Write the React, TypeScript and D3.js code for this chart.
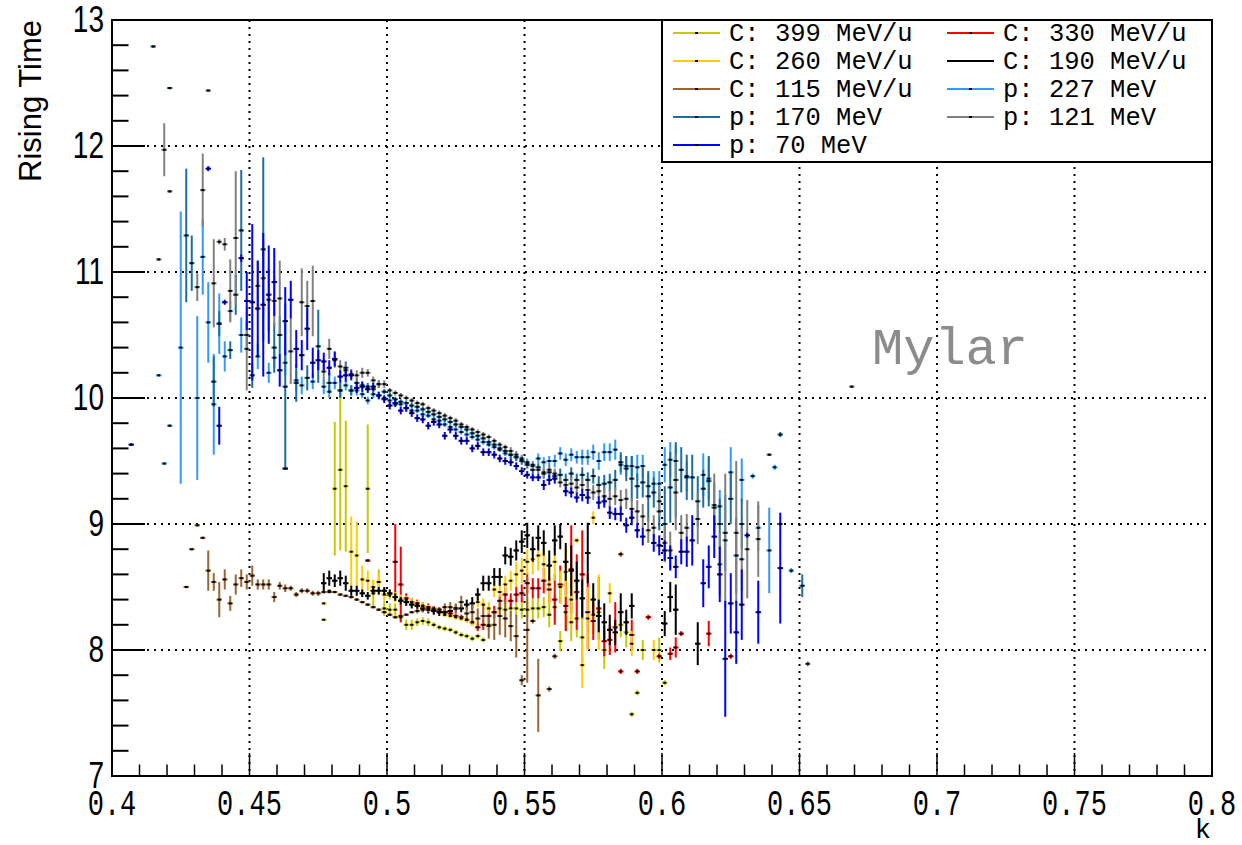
import React from 'react';
import * as d3 from 'd3';

type Pt = [number, number, number]; // [k, rising time, error]

const xTickValues = [0.4, 0.45, 0.5, 0.55, 0.6, 0.65, 0.7, 0.75, 0.8];
const xTickLabels = ['0.4', '0.45', '0.5', '0.55', '0.6', '0.65', '0.7', '0.75', '0.8'];
const yTickValues = [7, 8, 9, 10, 11, 12, 13];
const yTickLabels = ['7', '8', '9', '10', '11', '12', '13'];

const c399: Pt[] = [
  [0.477, 8.24, 0.01], [0.479, 8.47, 0.01], [0.481, 9.28, 0.53], [0.483, 9.43, 0.64], [0.485, 9.3, 0.52],
  [0.493, 9.28, 0.51], [0.495, 8.45, 0.1], [0.497, 8.54, 0.1], [0.499, 8.33, 0.06], [0.501, 8.32, 0.05],
  [0.503, 8.32, 0.05], [0.505, 8.26, 0.04], [0.507, 8.2, 0.04], [0.509, 8.2, 0.04], [0.511, 8.22, 0.03],
  [0.513, 8.23, 0.03], [0.515, 8.22, 0.03], [0.517, 8.2, 0.02], [0.519, 8.18, 0.02], [0.521, 8.17, 0.02],
  [0.523, 8.16, 0.02], [0.525, 8.14, 0.02], [0.527, 8.12, 0.02], [0.529, 8.11, 0.02], [0.531, 8.09, 0.02],
  [0.533, 8.11, 0.02], [0.535, 8.08, 0.02], [0.537, 8.2, 0.05], [0.539, 8.3, 0.05], [0.541, 8.33, 0.06],
  [0.543, 8.32, 0.06], [0.545, 8.33, 0.06], [0.547, 8.33, 0.07], [0.549, 8.32, 0.07], [0.551, 8.32, 0.07],
  [0.553, 8.33, 0.08], [0.555, 8.33, 0.08], [0.557, 8.34, 0.08], [0.559, 8.28, 0.1], [0.561, 8.34, 0.1],
  [0.563, 8.07, 0.08], [0.565, 8.3, 0.15], [0.567, 8.22, 0.15], [0.569, 8.25, 0.15], [0.571, 8.1, 0.2],
  [0.575, 8.28, 0.15], [0.579, 8.0, 0.15], [0.585, 8.2, 0.1], [0.587, 8.14, 0.12], [0.589, 7.49, 0.02],
  [0.591, 7.66, 0.02], [0.593, 8.0, 0.08], [0.599, 8.0, 0.1], [0.601, 7.74, 0.02],
];

const c330: Pt[] = [
  [0.493, 8.71, 0.01], [0.503, 8.7, 0.3], [0.505, 8.52, 0.3], [0.507, 8.41, 0.04], [0.509, 8.38, 0.03],
  [0.511, 8.37, 0.03], [0.513, 8.35, 0.03], [0.515, 8.34, 0.03], [0.517, 8.32, 0.03], [0.519, 8.32, 0.02],
  [0.521, 8.3, 0.02], [0.523, 8.29, 0.02], [0.525, 8.27, 0.02], [0.527, 8.26, 0.02], [0.529, 8.24, 0.02],
  [0.531, 8.22, 0.02], [0.533, 8.18, 0.03], [0.535, 8.2, 0.04], [0.537, 8.27, 0.05], [0.539, 8.3, 0.05],
  [0.541, 8.39, 0.05], [0.543, 8.44, 0.06], [0.545, 8.39, 0.06], [0.547, 8.44, 0.06], [0.549, 8.45, 0.07],
  [0.551, 8.53, 0.08], [0.553, 8.49, 0.08], [0.555, 8.49, 0.08], [0.557, 8.55, 0.1], [0.559, 8.48, 0.1],
  [0.561, 8.4, 0.2], [0.563, 8.52, 0.15], [0.565, 8.35, 0.2], [0.567, 8.64, 0.35], [0.569, 8.46, 0.3],
  [0.571, 8.6, 0.35], [0.573, 8.3, 0.3], [0.575, 8.23, 0.15], [0.577, 8.33, 0.25], [0.579, 8.07, 0.12],
  [0.581, 8.08, 0.12], [0.583, 8.18, 0.2], [0.585, 7.83, 0.02], [0.589, 8.12, 0.12], [0.591, 7.83, 0.02],
  [0.595, 8.26, 0.02], [0.599, 7.95, 0.02], [0.603, 7.97, 0.05], [0.605, 8.02, 0.08], [0.607, 8.13, 0.02],
  [0.617, 8.13, 0.1], [0.625, 7.95, 0.02],
];

const c260: Pt[] = [
  [0.477, 8.37, 0.01], [0.487, 8.78, 0.28], [0.489, 8.75, 0.27], [0.491, 8.56, 0.11], [0.493, 8.55, 0.08],
  [0.495, 8.5, 0.06], [0.497, 8.54, 0.06], [0.499, 8.44, 0.05], [0.501, 8.44, 0.04], [0.503, 8.42, 0.04],
  [0.505, 8.4, 0.04], [0.507, 8.4, 0.03], [0.509, 8.38, 0.03], [0.511, 8.36, 0.03], [0.513, 8.35, 0.03],
  [0.515, 8.33, 0.03], [0.517, 8.31, 0.02], [0.519, 8.3, 0.02], [0.521, 8.28, 0.02], [0.523, 8.27, 0.02],
  [0.525, 8.26, 0.02], [0.527, 8.25, 0.02], [0.529, 8.24, 0.02], [0.531, 8.22, 0.03], [0.533, 8.38, 0.04],
  [0.535, 8.36, 0.05], [0.537, 8.33, 0.05], [0.539, 8.48, 0.06], [0.541, 8.46, 0.06], [0.543, 8.52, 0.07],
  [0.545, 8.55, 0.08], [0.547, 8.6, 0.1], [0.549, 8.63, 0.1], [0.551, 8.7, 0.1], [0.553, 8.72, 0.12],
  [0.555, 8.75, 0.12], [0.557, 8.68, 0.12], [0.559, 8.52, 0.15], [0.561, 8.7, 0.15], [0.563, 8.5, 0.13],
  [0.565, 8.62, 0.2], [0.567, 8.4, 0.2], [0.569, 8.87, 0.02], [0.571, 7.88, 0.18], [0.573, 8.25, 0.25],
  [0.575, 9.05, 0.05], [0.577, 8.3, 0.3], [0.581, 8.45, 0.08], [0.589, 8.05, 0.1], [0.597, 8.0, 0.08],
];

const c190: Pt[] = [
  [0.463, 9.44, 0.01], [0.477, 8.53, 0.08], [0.479, 8.57, 0.06], [0.481, 8.55, 0.05], [0.483, 8.57, 0.06],
  [0.485, 8.53, 0.06], [0.487, 8.47, 0.04], [0.489, 8.47, 0.04], [0.491, 8.45, 0.03], [0.493, 8.43, 0.03],
  [0.495, 8.47, 0.03], [0.497, 8.47, 0.03], [0.499, 8.47, 0.03], [0.501, 8.45, 0.03], [0.503, 8.42, 0.03],
  [0.505, 8.39, 0.03], [0.507, 8.38, 0.03], [0.509, 8.36, 0.03], [0.511, 8.35, 0.03], [0.513, 8.33, 0.03],
  [0.515, 8.32, 0.03], [0.517, 8.31, 0.03], [0.519, 8.3, 0.03], [0.521, 8.3, 0.03], [0.523, 8.31, 0.03],
  [0.525, 8.33, 0.03], [0.527, 8.33, 0.03], [0.529, 8.36, 0.04], [0.531, 8.37, 0.05], [0.533, 8.44, 0.05],
  [0.535, 8.53, 0.06], [0.537, 8.53, 0.06], [0.539, 8.58, 0.07], [0.541, 8.58, 0.07], [0.543, 8.75, 0.07],
  [0.545, 8.74, 0.07], [0.547, 8.79, 0.08], [0.549, 8.86, 0.09], [0.551, 8.91, 0.1], [0.553, 8.8, 0.1],
  [0.555, 8.89, 0.1], [0.557, 8.85, 0.1], [0.559, 8.67, 0.12], [0.561, 8.87, 0.12], [0.563, 8.9, 0.1],
  [0.565, 8.7, 0.15], [0.567, 8.63, 0.2], [0.569, 8.55, 0.15], [0.571, 8.41, 0.15], [0.573, 8.77, 0.24],
  [0.575, 8.4, 0.13], [0.577, 8.27, 0.13], [0.579, 8.22, 0.15], [0.581, 8.16, 0.12], [0.583, 8.14, 0.1],
  [0.585, 8.3, 0.15], [0.587, 8.22, 0.1], [0.589, 8.35, 0.1], [0.601, 8.21, 0.1], [0.603, 8.42, 0.12],
  [0.605, 8.32, 0.2], [0.613, 8.05, 0.17],
];

const c115: Pt[] = [
  [0.427, 8.5, 0.01], [0.429, 8.8, 0.01], [0.431, 8.99, 0.01], [0.433, 8.89, 0.01], [0.435, 8.63, 0.16],
  [0.437, 8.54, 0.07], [0.439, 8.4, 0.14], [0.441, 8.56, 0.08], [0.443, 8.37, 0.06], [0.445, 8.52, 0.08],
  [0.447, 8.57, 0.07], [0.449, 8.54, 0.06], [0.451, 8.59, 0.08], [0.453, 8.52, 0.04], [0.455, 8.52, 0.04],
  [0.457, 8.52, 0.04], [0.459, 8.42, 0.04], [0.461, 8.51, 0.03], [0.463, 8.49, 0.03], [0.465, 8.49, 0.02],
  [0.467, 8.44, 0.02], [0.469, 8.47, 0.02], [0.471, 8.47, 0.02], [0.473, 8.45, 0.02], [0.475, 8.45, 0.02],
  [0.477, 8.46, 0.01], [0.479, 8.46, 0.01], [0.481, 8.46, 0.01], [0.483, 8.44, 0.01], [0.485, 8.43, 0.01],
  [0.487, 8.42, 0.01], [0.489, 8.4, 0.01], [0.491, 8.38, 0.01], [0.493, 8.36, 0.01], [0.495, 8.34, 0.01],
  [0.497, 8.32, 0.01], [0.499, 8.3, 0.01], [0.501, 8.28, 0.01], [0.503, 8.26, 0.01], [0.505, 8.27, 0.01],
  [0.507, 8.28, 0.01], [0.509, 8.3, 0.01], [0.511, 8.31, 0.02], [0.513, 8.32, 0.02], [0.515, 8.32, 0.02],
  [0.517, 8.33, 0.02], [0.519, 8.32, 0.02], [0.521, 8.34, 0.03], [0.523, 8.34, 0.04], [0.525, 8.33, 0.04],
  [0.527, 8.38, 0.05], [0.529, 8.29, 0.05], [0.531, 8.3, 0.07], [0.533, 8.25, 0.08], [0.535, 8.27, 0.1],
  [0.537, 8.19, 0.1], [0.539, 8.2, 0.12], [0.541, 8.27, 0.15], [0.543, 8.25, 0.15], [0.545, 8.19, 0.12],
  [0.547, 8.11, 0.17], [0.549, 7.76, 0.04], [0.551, 8.16, 0.42], [0.553, 8.23, 0.02], [0.555, 7.64, 0.29],
  [0.559, 7.69, 0.02], [0.561, 7.95, 0.02], [0.585, 8.76, 0.02],
];

const p227: Pt[] = [
  [0.417, 10.18, 0.01], [0.419, 9.48, 0.01], [0.421, 9.78, 0.01], [0.425, 10.4, 1.08], [0.431, 10.0, 0.65],
  [0.433, 11.12, 0.3], [0.435, 10.6, 0.32], [0.437, 9.95, 0.4], [0.439, 10.59, 0.24], [0.441, 10.33, 0.12],
  [0.443, 10.69, 0.08], [0.447, 10.5, 0.14], [0.453, 10.33, 0.1], [0.457, 10.2, 0.08], [0.459, 10.32, 0.08],
  [0.463, 10.28, 0.1], [0.467, 10.14, 0.08], [0.469, 10.1, 0.07], [0.473, 10.13, 0.06], [0.477, 10.09, 0.06],
  [0.479, 10.05, 0.05], [0.481, 10.12, 0.05], [0.483, 10.06, 0.05], [0.485, 10.1, 0.04], [0.487, 10.06, 0.04],
  [0.489, 10.06, 0.04], [0.491, 10.03, 0.03], [0.493, 9.98, 0.03], [0.495, 10.03, 0.03], [0.497, 10.02, 0.03],
  [0.499, 10.0, 0.02], [0.501, 9.98, 0.02], [0.503, 9.95, 0.02], [0.505, 9.95, 0.02], [0.507, 9.92, 0.02],
  [0.509, 9.9, 0.02], [0.511, 9.9, 0.02], [0.513, 9.87, 0.02], [0.515, 9.86, 0.02], [0.517, 9.83, 0.02],
  [0.519, 9.82, 0.02], [0.521, 9.79, 0.02], [0.523, 9.77, 0.02], [0.525, 9.75, 0.02], [0.527, 9.73, 0.02],
  [0.529, 9.71, 0.02], [0.531, 9.69, 0.02], [0.533, 9.67, 0.02], [0.535, 9.65, 0.02], [0.537, 9.63, 0.02],
  [0.539, 9.61, 0.02], [0.541, 9.59, 0.02], [0.543, 9.56, 0.02], [0.545, 9.55, 0.03], [0.547, 9.53, 0.03],
  [0.549, 9.51, 0.03], [0.551, 9.49, 0.03], [0.553, 9.47, 0.03], [0.555, 9.52, 0.04], [0.557, 9.49, 0.04],
  [0.559, 9.5, 0.04], [0.561, 9.5, 0.05], [0.563, 9.56, 0.05], [0.565, 9.51, 0.05], [0.567, 9.55, 0.05],
  [0.569, 9.53, 0.05], [0.571, 9.53, 0.06], [0.573, 9.53, 0.06], [0.575, 9.57, 0.06], [0.577, 9.5, 0.07],
  [0.579, 9.57, 0.07], [0.581, 9.57, 0.07], [0.583, 9.59, 0.08], [0.585, 9.47, 0.08], [0.587, 9.46, 0.08],
  [0.589, 9.46, 0.08], [0.591, 9.45, 0.1], [0.593, 9.46, 0.09], [0.595, 9.3, 0.1], [0.597, 9.32, 0.1],
  [0.599, 9.32, 0.1], [0.601, 9.47, 0.14], [0.603, 9.51, 0.14], [0.605, 9.5, 0.12], [0.609, 9.38, 0.12],
  [0.615, 9.39, 0.17], [0.617, 9.36, 0.17], [0.621, 9.14, 0.13], [0.625, 9.41, 0.2], [0.629, 9.35, 0.17],
  [0.633, 9.38, 0.02], [0.635, 8.97, 0.18], [0.639, 8.79, 0.34], [0.641, 9.45, 0.02], [0.647, 8.63, 0.02],
];

const p170: Pt[] = [
  [0.415, 12.79, 0.01], [0.421, 12.46, 0.01], [0.427, 11.29, 0.53], [0.429, 11.07, 0.22], [0.437, 10.13, 0.2],
  [0.439, 10.59, 0.1], [0.443, 10.38, 0.07], [0.445, 10.82, 0.16], [0.447, 11.33, 0.48], [0.449, 10.5, 0.1],
  [0.451, 10.18, 0.1], [0.455, 11.18, 0.73], [0.459, 10.4, 0.2], [0.461, 10.5, 0.15], [0.463, 10.09, 0.66],
  [0.467, 10.12, 0.15], [0.471, 10.16, 0.1], [0.475, 10.41, 0.29], [0.479, 10.12, 0.08], [0.483, 10.06, 0.06],
  [0.485, 10.24, 0.05], [0.487, 10.06, 0.04], [0.489, 10.12, 0.04], [0.491, 10.1, 0.03], [0.493, 10.09, 0.03],
  [0.495, 10.07, 0.03], [0.497, 10.11, 0.03], [0.499, 10.05, 0.02], [0.501, 10.02, 0.02], [0.503, 9.99, 0.02],
  [0.505, 9.97, 0.02], [0.507, 9.96, 0.02], [0.509, 9.94, 0.02], [0.511, 9.93, 0.02], [0.513, 9.91, 0.02],
  [0.515, 9.89, 0.02], [0.517, 9.87, 0.02], [0.519, 9.85, 0.02], [0.521, 9.83, 0.02], [0.523, 9.81, 0.02],
  [0.525, 9.79, 0.02], [0.527, 9.77, 0.02], [0.529, 9.75, 0.02], [0.531, 9.72, 0.02], [0.533, 9.7, 0.02],
  [0.535, 9.68, 0.02], [0.537, 9.65, 0.02], [0.539, 9.63, 0.02], [0.541, 9.6, 0.02], [0.543, 9.58, 0.02],
  [0.545, 9.55, 0.03], [0.547, 9.53, 0.03], [0.549, 9.5, 0.03], [0.551, 9.47, 0.03], [0.553, 9.43, 0.03],
  [0.555, 9.45, 0.03], [0.557, 9.4, 0.04], [0.559, 9.41, 0.04], [0.561, 9.38, 0.04], [0.563, 9.39, 0.05],
  [0.565, 9.35, 0.05], [0.567, 9.4, 0.05], [0.569, 9.35, 0.05], [0.571, 9.39, 0.06], [0.573, 9.35, 0.06],
  [0.575, 9.38, 0.06], [0.577, 9.31, 0.07], [0.579, 9.32, 0.07], [0.581, 9.33, 0.07], [0.583, 9.35, 0.08],
  [0.585, 9.49, 0.08], [0.587, 9.44, 0.1], [0.589, 9.36, 0.18], [0.591, 9.3, 0.1], [0.593, 9.33, 0.12],
  [0.595, 9.22, 0.2], [0.597, 9.25, 0.12], [0.599, 9.1, 0.15], [0.601, 9.0, 0.3], [0.603, 9.29, 0.28],
  [0.605, 9.35, 0.3], [0.607, 9.43, 0.18], [0.609, 9.37, 0.18], [0.611, 9.37, 0.18], [0.613, 9.18, 0.2],
  [0.615, 9.28, 0.15], [0.617, 9.34, 0.2], [0.619, 9.13, 0.2], [0.621, 9.0, 0.2], [0.623, 8.93, 0.3],
  [0.625, 9.2, 0.2], [0.627, 8.75, 0.3], [0.629, 9.0, 0.2], [0.643, 9.71, 0.02], [0.651, 8.51, 0.09],
];

const p121: Pt[] = [
  [0.417, 11.1, 0.01], [0.419, 11.97, 0.21], [0.421, 11.64, 0.01], [0.431, 10.88, 0.11], [0.433, 11.65, 0.29],
  [0.435, 12.44, 0.01], [0.437, 10.91, 0.35], [0.439, 11.24, 0.02], [0.441, 11.22, 0.05], [0.443, 10.85, 0.25],
  [0.445, 11.27, 0.53], [0.449, 10.39, 0.33], [0.453, 10.89, 0.2], [0.455, 10.95, 0.3], [0.457, 10.78, 0.25],
  [0.459, 10.77, 0.2], [0.461, 10.79, 0.3], [0.465, 10.37, 0.26], [0.469, 10.76, 0.27], [0.471, 10.73, 0.2],
  [0.473, 10.77, 0.28], [0.477, 10.21, 0.1], [0.479, 10.39, 0.08], [0.481, 10.3, 0.06], [0.483, 10.25, 0.05],
  [0.485, 10.22, 0.05], [0.487, 10.19, 0.04], [0.489, 10.18, 0.04], [0.491, 10.2, 0.04], [0.493, 10.2, 0.03],
  [0.495, 10.14, 0.03], [0.497, 10.11, 0.03], [0.499, 10.11, 0.03], [0.501, 10.06, 0.02], [0.503, 10.04, 0.02],
  [0.505, 10.02, 0.02], [0.507, 10.0, 0.02], [0.509, 9.98, 0.02], [0.511, 9.96, 0.02], [0.513, 9.95, 0.02],
  [0.515, 9.92, 0.02], [0.517, 9.9, 0.02], [0.519, 9.88, 0.02], [0.521, 9.86, 0.02], [0.523, 9.84, 0.02],
  [0.525, 9.82, 0.02], [0.527, 9.79, 0.02], [0.529, 9.77, 0.02], [0.531, 9.75, 0.02], [0.533, 9.73, 0.02],
  [0.535, 9.71, 0.02], [0.537, 9.69, 0.02], [0.539, 9.66, 0.02], [0.541, 9.63, 0.02], [0.543, 9.61, 0.02],
  [0.545, 9.58, 0.03], [0.547, 9.55, 0.03], [0.549, 9.52, 0.03], [0.551, 9.48, 0.03], [0.553, 9.46, 0.03],
  [0.555, 9.43, 0.03], [0.557, 9.41, 0.04], [0.559, 9.43, 0.04], [0.561, 9.4, 0.04], [0.563, 9.33, 0.04],
  [0.565, 9.31, 0.05], [0.567, 9.32, 0.05], [0.569, 9.29, 0.05], [0.571, 9.31, 0.05], [0.573, 9.27, 0.06],
  [0.575, 9.25, 0.06], [0.577, 9.26, 0.06], [0.579, 9.22, 0.07], [0.581, 9.2, 0.07], [0.583, 9.22, 0.07],
  [0.585, 9.19, 0.08], [0.587, 9.2, 0.08], [0.589, 9.12, 0.09], [0.591, 9.1, 0.09], [0.593, 9.06, 0.1],
  [0.595, 8.95, 0.1], [0.597, 8.97, 0.1], [0.599, 9.18, 0.12], [0.601, 8.85, 0.15], [0.603, 8.79, 0.15],
  [0.605, 9.25, 0.3], [0.607, 8.93, 0.14], [0.609, 8.97, 0.11], [0.613, 9.04, 0.2], [0.619, 9.15, 0.25],
  [0.621, 8.68, 0.25], [0.623, 8.87, 0.53], [0.627, 8.93, 0.57], [0.629, 8.72, 0.25], [0.631, 8.8, 0.39],
  [0.635, 8.88, 0.3], [0.639, 9.55, 0.01], [0.643, 9.0, 0.02], [0.653, 7.89, 0.02], [0.669, 10.09, 0.01],
];

const p70: Pt[] = [
  [0.407, 9.63, 0.01], [0.435, 11.82, 0.02], [0.439, 9.78, 0.15], [0.441, 10.76, 0.02], [0.447, 11.11, 0.03],
  [0.449, 10.77, 0.23], [0.451, 10.76, 0.62], [0.453, 10.71, 0.38], [0.455, 10.74, 0.57], [0.457, 10.82, 0.39],
  [0.459, 10.92, 0.27], [0.461, 10.22, 0.13], [0.463, 10.61, 0.27], [0.465, 10.78, 0.15], [0.467, 10.39, 0.15],
  [0.469, 10.34, 0.12], [0.471, 10.55, 0.17], [0.473, 10.28, 0.12], [0.475, 10.3, 0.08], [0.477, 10.29, 0.07],
  [0.479, 10.24, 0.06], [0.481, 10.31, 0.06], [0.483, 10.17, 0.05], [0.485, 10.18, 0.05], [0.487, 10.18, 0.04],
  [0.489, 10.08, 0.04], [0.491, 10.09, 0.04], [0.493, 10.07, 0.03], [0.495, 10.09, 0.03], [0.497, 10.02, 0.03],
  [0.499, 9.99, 0.03], [0.501, 9.94, 0.03], [0.503, 9.96, 0.03], [0.505, 9.9, 0.03], [0.507, 9.92, 0.03],
  [0.509, 9.88, 0.03], [0.511, 9.84, 0.03], [0.513, 9.83, 0.03], [0.515, 9.78, 0.03], [0.517, 9.81, 0.03],
  [0.519, 9.79, 0.03], [0.521, 9.7, 0.03], [0.523, 9.75, 0.03], [0.525, 9.7, 0.03], [0.527, 9.66, 0.03],
  [0.529, 9.66, 0.03], [0.531, 9.6, 0.03], [0.533, 9.62, 0.03], [0.535, 9.57, 0.03], [0.537, 9.57, 0.03],
  [0.539, 9.55, 0.03], [0.541, 9.52, 0.03], [0.543, 9.5, 0.03], [0.545, 9.49, 0.03], [0.547, 9.46, 0.03],
  [0.549, 9.42, 0.03], [0.551, 9.39, 0.03], [0.553, 9.37, 0.03], [0.555, 9.37, 0.03], [0.557, 9.31, 0.04],
  [0.559, 9.35, 0.04], [0.561, 9.36, 0.04], [0.565, 9.26, 0.04], [0.567, 9.25, 0.04], [0.569, 9.21, 0.04],
  [0.571, 9.23, 0.05], [0.573, 9.21, 0.05], [0.577, 9.17, 0.05], [0.579, 9.18, 0.05], [0.581, 9.09, 0.05],
  [0.583, 9.08, 0.05], [0.585, 9.08, 0.06], [0.587, 8.99, 0.06], [0.589, 9.05, 0.06], [0.591, 8.95, 0.06],
  [0.593, 8.9, 0.07], [0.597, 8.85, 0.07], [0.599, 8.83, 0.08], [0.601, 8.79, 0.08], [0.603, 8.73, 0.1],
  [0.605, 8.66, 0.09], [0.607, 8.78, 0.1], [0.609, 8.78, 0.12], [0.611, 8.87, 0.2], [0.615, 8.53, 0.19],
  [0.617, 8.66, 0.17], [0.619, 8.9, 0.17], [0.621, 8.6, 0.22], [0.623, 7.93, 0.46], [0.625, 8.37, 0.24],
  [0.627, 8.14, 0.25], [0.629, 8.36, 0.28], [0.631, 8.91, 0.02], [0.635, 8.3, 0.25], [0.643, 8.65, 0.44],
];

const seriesLabels = ['C: 399 MeV/u', 'C: 330 MeV/u', 'C: 260 MeV/u', 'C: 190 MeV/u', 'C: 115 MeV/u',
  'p: 227 MeV', 'p: 170 MeV', 'p: 121 MeV', 'p: 70 MeV'];
const seriesColors = ['#c8c800', '#ff0000', '#ffcc00', '#000000', '#996633', '#3399ff', '#1c6e9c', '#808080', '#0000ff'];
const seriesData = [c399, c330, c260, c190, c115, p227, p170, p121, p70];
const binHalfWidth = 0.001;

const W = 1242;
const H = 845;
const L = 112, R = 1212, T = 20, B = 776;

export default function App() {
  const x = d3.scaleLinear().domain([0.4, 0.8]).range([L, R]);
  const y = d3.scaleLinear().domain([7, 13]).range([B, T]);
  const xMinor = d3.range(0, 41).map((i) => 0.4 + i * 0.01);
  const yMinor = d3.range(0, 31).map((i) => 7 + i * 0.2);
  const xGrid = xTickValues.slice(1, -1);
  const yGrid = yTickValues.slice(1, -1);

  const legRows = [33, 61, 89, 117, 145];
  const legCols = [673, 947];

  return (
    <svg width={W} height={H} style={{ position: 'absolute', left: 0, top: 0, background: '#fff' }}
      xmlns="http://www.w3.org/2000/svg">
      <rect x={0} y={0} width={W} height={H} fill="#fff" />
      {xGrid.map((v) => (
        <line key={'gx' + v} x1={x(v)} x2={x(v)} y1={T} y2={B} stroke="#000" strokeWidth={2} strokeDasharray="2,5" />
      ))}
      {yGrid.map((v) => (
        <line key={'gy' + v} x1={L} x2={R} y1={y(v)} y2={y(v)} stroke="#000" strokeWidth={2} strokeDasharray="2,5" />
      ))}
      {seriesData.map((data, si) => (
        <g key={'s' + si} stroke={seriesColors[si]} strokeWidth={2}>
          {data.map(([k, v, e], i) => (
            <g key={i}>
              <line x1={x(k)} x2={x(k)} y1={y(v + e)} y2={y(v - e)} />
              <line x1={x(k - binHalfWidth)} x2={x(k + binHalfWidth)} y1={y(v)} y2={y(v)} />
            </g>
          ))}
        </g>
      ))}
      {seriesData.map((data, si) => (
        <g key={'m' + si} fill="#000">
          {data.map(([k, v], i) => (
            <rect key={i} x={x(k) - 1.5} y={y(v) - 1} width={3} height={2} />
          ))}
        </g>
      ))}
      {xMinor.map((v, i) => {
        const major = i % 5 === 0;
        return <line key={'xt' + i} x1={x(v)} x2={x(v)} y1={B} y2={B - (major ? 23 : 11.5)} stroke="#000" strokeWidth={1.5} />;
      })}
      {yMinor.map((v, i) => {
        const major = i % 5 === 0;
        return <line key={'yt' + i} x1={L} x2={L + (major ? 33 : 16.5)} y1={y(v)} y2={y(v)} stroke="#000" strokeWidth={2} />;
      })}
      <rect x={L} y={T} width={R - L} height={B - T} fill="none" stroke="#000" strokeWidth={2} />
      {xTickValues.map((v, i) => (
        <text key={'xl' + i} transform={`translate(${x(v)},815) scale(1,1.35)`} textAnchor="middle"
          fontFamily="Liberation Mono, Courier New, monospace" fontSize={27} fill="#000">{xTickLabels[i]}</text>
      ))}
      {yTickValues.map((v, i) => (
        <text key={'yl' + i} transform={`translate(104,${y(v) + 12}) scale(1,1.3)`} textAnchor="end"
          fontFamily="Liberation Sans, Arial, Helvetica, sans-serif" fontSize={28} fill="#000">{yTickLabels[i]}</text>
      ))}
      <text x={1211} y={838} textAnchor="end"
        fontFamily="Liberation Mono, Courier New, monospace" fontSize={27} fill="#000">k</text>
      <text transform={`translate(41,20) rotate(-90)`} textAnchor="end"
        fontFamily="Liberation Sans, Arial, Helvetica, sans-serif" fontSize={31} fill="#000">Rising Time</text>
      <text x={872} y={364} fontFamily="Liberation Mono, Courier New, monospace" fontSize={52} fill="#8c8c8c">Mylar</text>
      <rect x={662} y={T} width={R - 662} height={142} fill="#fff" stroke="#000" strokeWidth={2} />
      {seriesLabels.map((lab, i) => {
        const row = Math.floor(i / 2);
        const col = i % 2;
        const lx = legCols[col];
        const ly = legRows[row];
        return (
          <g key={'lg' + i}>
            <line x1={lx} x2={lx + 47} y1={ly} y2={ly} stroke={seriesColors[i]} strokeWidth={2} />
            <rect x={lx + 22} y={ly - 1} width={3} height={2} fill="#000" />
            <text x={lx + 56} y={ly + 8} fontFamily="Liberation Mono, Courier New, monospace" fontSize={25.5} fill="#000">{lab}</text>
          </g>
        );
      })}
    </svg>
  );
}
